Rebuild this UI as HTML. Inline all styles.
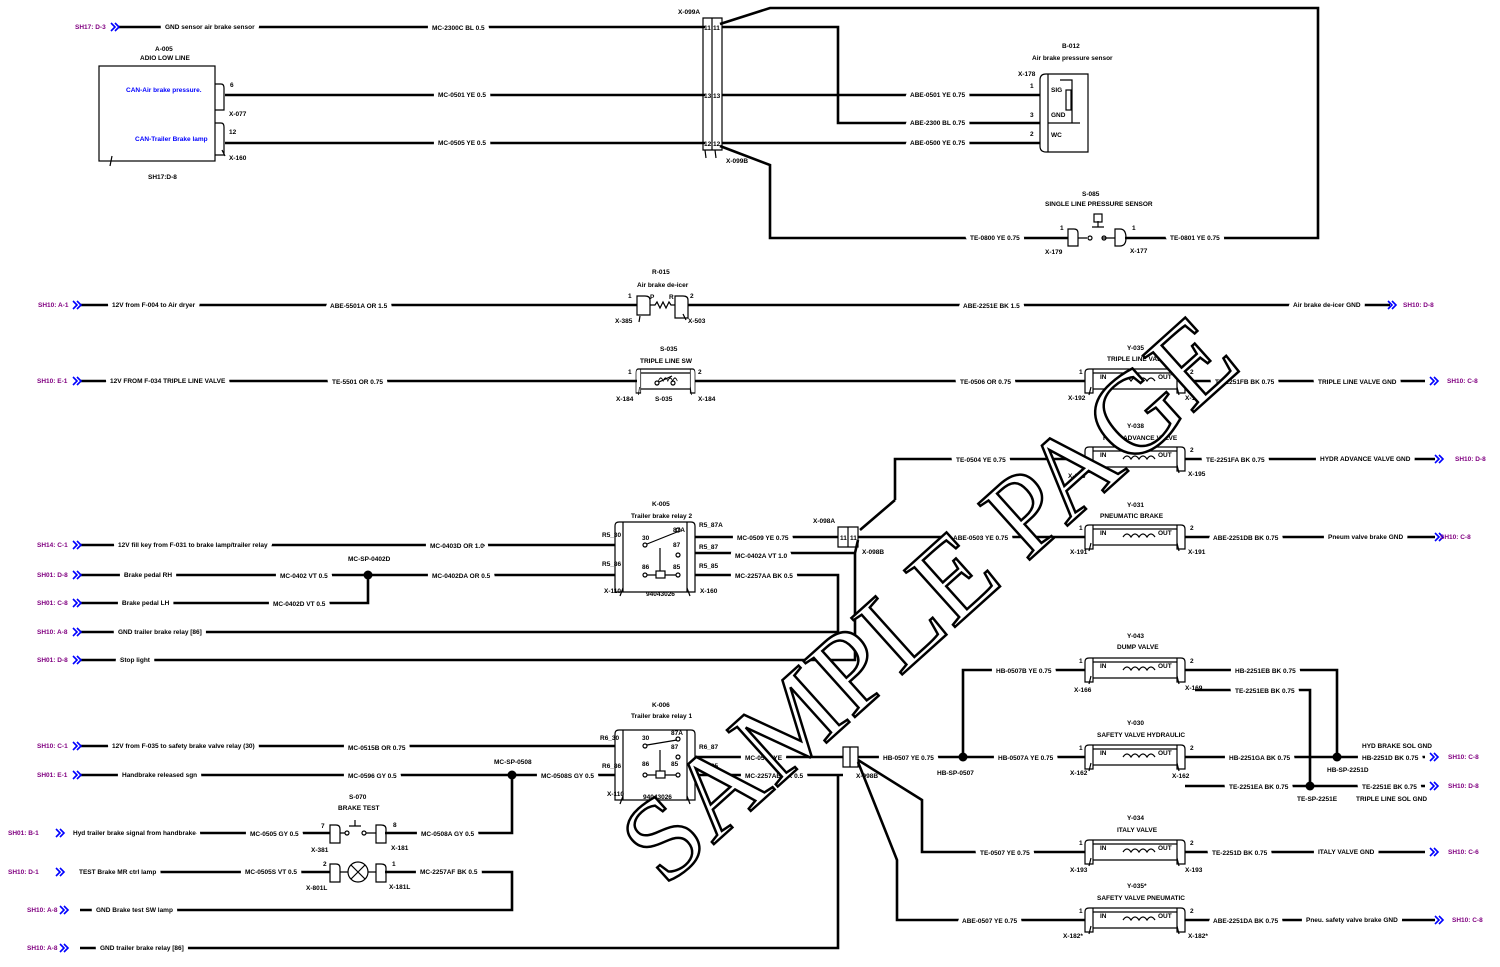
<!DOCTYPE html>
<html><head><meta charset="utf-8"><style>
html,body{margin:0;padding:0;background:#fff}
svg{display:block}
.w{stroke:#000;stroke-width:2.6;fill:none}
.th{stroke:#000;stroke-width:1.2;fill:none}
text{font-family:"Liberation Sans",sans-serif;font-size:6.5px;font-weight:bold;fill:#000}
.l{paint-order:stroke;stroke:#fff;stroke-width:9px;stroke-linejoin:round}
.p{fill:#800080;font-size:6.5px}
.b{fill:#00f}
.ar{stroke:#00f;stroke-width:1.6;fill:none}
</style></head><body>
<svg width="1500" height="967" viewBox="0 0 1500 967" xmlns="http://www.w3.org/2000/svg">
<defs>
<g id="arr"><path class="ar" d="M0,-4 L4,0 L0,4 M4,-4 L8,0 L4,4"/></g>
<g id="valve">
<path class="th" d="M4,-12 H96 Q100,-12 100,-8 V12 H92 V-12 M4,-12 Q0,-12 0,-8 V12 H8 V-12 M8,-8 H92 M8,8 H92"/>
<path class="th" d="M4,14 L6,6 M94,14 L92,6"/>
<path class="th" d="M38,0 q4,-6 8,0 q4,-6 8,0 q4,-6 8,0 q4,-6 8,0"/>
</g>
<g id="rel">
<path class="th" d="M4,0 H76 Q80,0 80,4 V70 H0 V4 Q0,0 4,0 M8,0 V70 M72,0 V70"/>
<path class="th" d="M8,66 L5,74 M72,66 L75,74"/>
</g>
</defs>
<rect width="1500" height="967" fill="#fff"/>

<!-- TOP SECTION -->
<path class="w" d="M118,27 H705 M722,27 H838 V123 H1040 M722,95 H1040 M722,143 H1040 M225,95 H705 M225,143 H705"/>
<path class="w" d="M720,24 L770,8 H1318 V238 H1125 M720,146 L770,165 V238 H1068"/>
<path class="th" d="M703,18 H712 V150 H703 Z M712,18 H722 V150 H712 Z M705,150 l1,8 M715,150 l1,8"/>
<text x="678" y="14">X-099A</text>
<text x="704" y="30" font-size="5">11</text><text x="713" y="30" font-size="5">11</text>
<text x="704" y="98" font-size="5">13</text><text x="713" y="98" font-size="5">13</text>
<text x="704" y="146" font-size="5">12</text><text x="713" y="146" font-size="5">12</text>
<text x="726" y="163">X-099B</text>
<use href="#arr" x="111" y="27"/>
<text class="p" x="75" y="29">SH17: D-3</text>
<text class="l" x="165" y="29">GND sensor air brake sensor</text>
<text class="l" x="432" y="30">MC-2300C BL 0.5</text>
<rect x="99" y="66" width="116" height="95" class="th" stroke-width="1.5"/>
<path class="th" d="M215,84 H221 Q224,84 224,88 V110 H215 M215,123 H221 Q224,123 224,127 V155 H215 M222,150 l3,6"/>
<text x="155" y="51">A-005</text><text x="140" y="60">ADIO LOW LINE</text>
<text class="b" x="126" y="92">CAN-Air brake pressure.</text>
<text class="b" x="135" y="141">CAN-Trailer Brake lamp</text>
<text x="230" y="87">6</text><text x="229" y="116">X-077</text>
<text x="229" y="134">12</text><text x="229" y="160">X-160</text>
<text x="148" y="179">SH17:D-8</text><path class="th" d="M112,156 l-2,10"/>
<text class="l" x="438" y="97">MC-0501 YE 0.5</text>
<text class="l" x="438" y="145">MC-0505 YE 0.5</text>
<text class="l" x="910" y="97">ABE-0501 YE 0.75</text>
<text class="l" x="910" y="125">ABE-2300 BL 0.75</text>
<text class="l" x="910" y="145">ABE-0500 YE 0.75</text>
<path class="th" d="M1046,74 H1088 V152 H1046 Q1040,152 1040,146 V80 Q1040,74 1046,74 M1048,74 V152 M1048,123 H1080 M1060,80 H1072 V123"/>
<rect x="1066" y="90" width="5" height="20" class="th"/>
<text x="1062" y="48">B-012</text><text x="1032" y="60">Air brake pressure sensor</text>
<text x="1018" y="76">X-178</text>
<text x="1030" y="88">1</text><text x="1030" y="117">3</text><text x="1030" y="136">2</text>
<text x="1051" y="92" font-size="5">SIG</text><text x="1051" y="117" font-size="5">GND</text><text x="1051" y="137" font-size="5">WC</text>
<path class="th" d="M1068,229 H1074 Q1078,229 1078,233 V246 H1068 Z M1078,238 H1087 M1115,229 H1120 Q1126,229 1126,238 Q1126,246 1120,246 H1115 Z M1102,238 H1115 M1092,227 H1104 M1098,227 V221"/>
<circle cx="1090" cy="238" r="2" class="th"/><circle cx="1104" cy="238" r="2" class="th"/>
<rect x="1094" y="214" width="8" height="8" class="th"/>
<text x="1082" y="196">S-085</text><text x="1045" y="206">SINGLE LINE PRESSURE SENSOR</text>
<text x="1060" y="230">1</text><text x="1132" y="230">1</text>
<text x="1045" y="254">X-179</text><text x="1130" y="253">X-177</text>
<text class="l" x="970" y="240">TE-0800 YE 0.75</text>
<text class="l" x="1170" y="240">TE-0801 YE 0.75</text>

<!-- ROW 305 -->
<path class="w" d="M80,305 H637 M688,305 H1390"/>
<use href="#arr" x="73" y="305"/><use href="#arr" x="1388" y="305"/>
<text class="p" x="38" y="307">SH10: A-1</text>
<text class="l" x="112" y="307">12V from F-004 to Air dryer</text>
<text class="l" x="330" y="308">ABE-5501A OR 1.5</text>
<text class="l" x="963" y="308">ABE-2251E BK 1.5</text>
<text class="l" x="1293" y="307">Air brake de-icer GND</text>
<text class="p" x="1403" y="307">SH10: D-8</text>
<path class="th" d="M637,296 H645 Q650,296 650,300 V315 H637 Z M650,305 H655 l2,-3 l3,6 l3,-6 l3,6 l3,-6 l2,3 H675 M675,296 H683 Q688,296 688,300 V318 H675 Z M640,316 l-1,6 M683,314 l3,6"/>
<text x="652" y="274">R-015</text><text x="637" y="287">Air brake de-icer</text>
<text x="628" y="298">1</text><text x="690" y="298">2</text><text x="650" y="299">P</text><text x="669" y="299">R</text>
<text x="615" y="323">X-385</text><text x="688" y="323">X-503</text>

<!-- ROW 381 -->
<path class="w" d="M80,381 H637 M695,381 H1085 M1185,381 H1425"/>
<use href="#arr" x="73" y="381"/><use href="#arr" x="1430" y="381"/>
<text class="p" x="37" y="383">SH10: E-1</text>
<text class="l" x="110" y="383">12V FROM F-034 TRIPLE LINE VALVE</text>
<text class="l" x="332" y="384">TE-5501 OR 0.75</text>
<text class="l" x="960" y="384">TE-0506 OR 0.75</text>
<text class="l" x="1215" y="384">TE-2251FB BK 0.75</text>
<text class="l" x="1318" y="384">TRIPLE LINE VALVE GND</text>
<text class="p" x="1447" y="383">SH10: C-8</text>
<use href="#valve" x="636" y="381" transform="translate(636,381) scale(0.59,1) translate(-636,-381)"/>
<circle cx="657" cy="383" r="2" class="th"/><circle cx="673" cy="383" r="2" class="th"/><path class="th" d="M659,382 L672,376"/>
<text x="660" y="351">S-035</text><text x="640" y="363">TRIPLE LINE SW</text>
<text x="628" y="374">1</text><text x="698" y="374">2</text>
<text x="616" y="401">X-184</text><text x="655" y="401">S-035</text><text x="698" y="401">X-184</text>
<use href="#valve" x="1085" y="381"/>
<text x="1100" y="379">IN</text><text x="1158" y="379">OUT</text>
<text x="1127" y="350">Y-035</text><text x="1107" y="361">TRIPLE LINE VALVE</text>
<text x="1079" y="374">1</text><text x="1190" y="374">2</text>
<text x="1068" y="400">X-192</text><text x="1185" y="400">X-192</text>

<!-- ROW 459 -->
<path class="w" d="M895,500 V459 H1085 M1185,459 H1435 M895,500 L860,530"/>
<use href="#arr" x="1435" y="459"/>
<use href="#valve" x="1085" y="459"/>
<text x="1100" y="457">IN</text><text x="1158" y="457">OUT</text>
<text x="1127" y="428">Y-038</text><text x="1103" y="440">HYDR ADVANCE VALVE</text>
<text x="1190" y="452">2</text><text x="1068" y="478">X-195</text><text x="1188" y="476">X-195</text>
<text class="l" x="956" y="462">TE-0504 YE 0.75</text>
<text class="l" x="1206" y="462">TE-2251FA BK 0.75</text>
<text class="l" x="1320" y="461">HYDR ADVANCE VALVE GND</text>
<text class="p" x="1455" y="461">SH10: D-8</text>

<!-- ROW 537 -->
<path class="w" d="M695,537 H838 M858,537 H1085 M1185,537 H1435"/>
<use href="#arr" x="1435" y="537"/>
<use href="#valve" x="1085" y="537"/>
<text x="1100" y="535">IN</text><text x="1158" y="535">OUT</text>
<text x="1127" y="507">Y-031</text><text x="1100" y="518">PNEUMATIC BRAKE</text>
<text x="1079" y="530">1</text><text x="1190" y="530">2</text>
<text x="1070" y="554">X-191</text><text x="1188" y="554">X-191</text>
<text class="l" x="953" y="540">ABE-0503 YE 0.75</text>
<text class="l" x="1213" y="540">ABE-2251DB BK 0.75</text>
<text class="l" x="1328" y="539">Pneum valve brake GND</text>
<text class="p" x="1440" y="539">SH10: C-8</text>
<path class="th" d="M838,527 H848 V547 H838 Z M848,527 H858 V547 H848 Z"/>
<text x="813" y="523">X-098A</text><text x="862" y="554">X-098B</text>
<text x="840" y="540" font-size="5">11</text><text x="850" y="540" font-size="5">11</text>

<!-- K-005 relay and left rows -->
<path class="w" d="M80,545 H615 M80,575 H615 M80,603 H368 V575 M80,632 H838 V575 H695 M80,660 H855 V553 H695 M855,553 L858,540"/>
<circle cx="368" cy="575" r="4.5" fill="#000"/>
<use href="#arr" x="73" y="545"/><use href="#arr" x="73" y="575"/><use href="#arr" x="73" y="603"/><use href="#arr" x="73" y="632"/><use href="#arr" x="73" y="660"/>
<text class="p" x="37" y="547">SH14: C-1</text><text class="p" x="37" y="577">SH01: D-8</text><text class="p" x="37" y="605">SH01: C-8</text><text class="p" x="37" y="634">SH10: A-8</text><text class="p" x="37" y="662">SH01: D-8</text>
<text class="l" x="118" y="547">12V fill key from F-031 to brake lamp/trailer relay</text>
<text class="l" x="430" y="548">MC-0403D OR 1.0</text>
<text class="l" x="124" y="577">Brake pedal RH</text>
<text class="l" x="280" y="578">MC-0402 VT 0.5</text>
<text x="348" y="561">MC-SP-0402D</text>
<text class="l" x="432" y="578">MC-0402DA OR 0.5</text>
<text class="l" x="122" y="605">Brake pedal LH</text>
<text class="l" x="273" y="606">MC-0402D VT 0.5</text>
<text class="l" x="118" y="634">GND trailer brake relay [86]</text>
<text class="l" x="120" y="662">Stop light</text>
<text class="l" x="737" y="540">MC-0509 YE 0.75</text>
<text class="l" x="735" y="558">MC-0402A VT 1.0</text>
<text class="l" x="735" y="578">MC-2257AA BK 0.5</text>
<use href="#rel" x="615" y="522"/>
<g class="th"><circle cx="645" cy="545" r="2"/><circle cx="678" cy="530" r="2"/><circle cx="678" cy="555" r="2"/><circle cx="645" cy="575" r="2"/><circle cx="678" cy="575" r="2"/><rect x="656" y="571" width="9" height="7"/>
<path d="M647,544 L677,532 M660,571 V548 M647,575 H656 M665,575 H676"/></g>
<text x="652" y="506">K-005</text><text x="631" y="518">Trailer brake relay 2</text>
<text x="602" y="537">R5_30</text><text x="602" y="566">R5_86</text><text x="699" y="527">R5_87A</text><text x="699" y="549">R5_87</text><text x="699" y="568">R5_85</text>
<text x="642" y="540">30</text><text x="673" y="532">87A</text><text x="673" y="547">87</text><text x="642" y="569">86</text><text x="673" y="569">85</text>
<text x="604" y="593">X-110</text><text x="646" y="596">94043026</text><text x="700" y="593">X-160</text>

<!-- Lower relay K-006 -->
<path class="w" d="M80,746 H615 M80,775 H615 M695,757 H843 M695,775 H843"/>
<circle cx="512" cy="775" r="4.5" fill="#000"/>
<path class="w" d="M80,833 H330 M385,833 H512 V775 M80,872 H330 M385,872 H512 V910 H80 M80,948 H838 V775"/>
<use href="#arr" x="73" y="746"/><use href="#arr" x="73" y="775"/><use href="#arr" x="56" y="833"/><use href="#arr" x="56" y="872"/><use href="#arr" x="60" y="910"/><use href="#arr" x="60" y="948"/>
<text class="p" x="37" y="748">SH10: C-1</text><text class="p" x="37" y="777">SH01: E-1</text><text class="p" x="8" y="835">SH01: B-1</text><text class="p" x="8" y="874">SH10: D-1</text><text class="p" x="27" y="912">SH10: A-8</text><text class="p" x="27" y="950">SH10: A-8</text>
<text class="l" x="112" y="748">12V from F-035 to safety brake valve relay (30)</text>
<text class="l" x="348" y="750">MC-0515B OR 0.75</text>
<text class="l" x="122" y="777">Handbrake released sgn</text>
<text class="l" x="348" y="778">MC-0596 GY 0.5</text>
<text x="494" y="764">MC-SP-0508</text>
<text class="l" x="541" y="778">MC-0508S GY 0.5</text>
<text class="l" x="73" y="835">Hyd trailer brake signal from handbrake</text>
<text class="l" x="250" y="836">MC-0505 GY 0.5</text>
<text class="l" x="421" y="836">MC-0508A GY 0.5</text>
<text class="l" x="79" y="874">TEST Brake MR ctrl lamp</text>
<text class="l" x="245" y="874">MC-0505S VT 0.5</text>
<text class="l" x="420" y="874">MC-2257AF BK 0.5</text>
<text class="l" x="96" y="912">GND Brake test SW lamp</text>
<text class="l" x="100" y="950">GND trailer brake relay [86]</text>
<path class="th" d="M330,825 H336 Q340,825 340,829 V843 H330 Z M340,833 H345 M366,833 H376 M376,825 H381 Q386,825 386,829 V843 H376 Z M349,826 H361 M355,826 V820 M330,864 H336 Q340,864 340,868 V882 H330 Z M340,872 H348 M368,872 H376 M376,864 H381 Q386,864 386,868 V882 H376 Z"/>
<circle cx="347" cy="833" r="2" class="th"/><circle cx="364" cy="833" r="2" class="th"/>
<circle cx="358" cy="872" r="10" class="th" stroke-width="1.5"/><path class="th" d="M351,865 L365,879 M365,865 L351,879"/>
<text x="349" y="799">S-070</text><text x="338" y="810">BRAKE TEST</text>
<text x="321" y="828">7</text><text x="393" y="827">8</text><text x="311" y="852">X-381</text><text x="391" y="850">X-181</text>
<text x="323" y="866">2</text><text x="392" y="866">1</text><text x="306" y="890">X-801L</text><text x="389" y="889">X-181L</text>
<use href="#rel" x="615" y="730"/>
<g class="th"><circle cx="645" cy="746" r="2"/><circle cx="678" cy="739" r="2"/><circle cx="678" cy="757" r="2"/><circle cx="645" cy="775" r="2"/><circle cx="678" cy="775" r="2"/><rect x="656" y="771" width="9" height="7"/>
<path d="M647,745 L677,740 M660,771 V750 M647,775 H656 M665,775 H676"/></g>
<text x="652" y="707">K-006</text><text x="631" y="718">Trailer brake relay 1</text>
<text x="600" y="740">R6_30</text><text x="602" y="768">R6_86</text><text x="699" y="749">R6_87</text><text x="699" y="768">R6_85</text>
<text x="642" y="740">30</text><text x="671" y="735">87A</text><text x="671" y="749">87</text><text x="642" y="766">86</text><text x="671" y="766">85</text>
<text x="607" y="796">X-110</text><text x="643" y="799">94043026</text>
<text class="l" x="745" y="760">MC-0507 YE</text>
<text class="l" x="745" y="778">MC-2257AB BK 0.5</text>
<path class="th" d="M843,747 H850 V767 H843 Z M850,747 H858 V767 H850 Z"/>
<text x="856" y="778">X-098B</text>

<!-- Right lower -->
<path class="w" d="M858,757 H1085 M963,757 V670 H1085 M1185,670 H1337 V757 M1195,690 H1310 V786 M1185,757 H1425 M1185,786 H1425"/>
<path class="w" d="M858,760 L922,800 V852 H1085 M1185,852 H1425 M858,762 L897,860 V920 H1085 M1185,920 H1435"/>
<circle cx="963" cy="757" r="4.5" fill="#000"/><circle cx="1337" cy="757" r="4.5" fill="#000"/><circle cx="1310" cy="786" r="4.5" fill="#000"/>
<use href="#arr" x="1430" y="757"/><use href="#arr" x="1430" y="786"/><use href="#arr" x="1430" y="852"/><use href="#arr" x="1435" y="920"/>
<text class="l" x="883" y="760">HB-0507 YE 0.75</text>
<text x="937" y="775">HB-SP-0507</text>
<text class="l" x="998" y="760">HB-0507A YE 0.75</text>
<text class="l" x="996" y="673">HB-0507B YE 0.75</text>
<text class="l" x="1235" y="673">HB-2251EB BK 0.75</text>
<text class="l" x="1235" y="693">TE-2251EB BK 0.75</text>
<text class="l" x="1229" y="760">HB-2251GA BK 0.75</text>
<text class="l" x="1229" y="789">TE-2251EA BK 0.75</text>
<text x="1362" y="748">HYD BRAKE SOL GND</text>
<text class="l" x="1362" y="760">HB-2251D BK 0.75</text>
<text class="l" x="1362" y="789">TE-2251E BK 0.75</text>
<text x="1327" y="772">HB-SP-2251D</text><text x="1297" y="801">TE-SP-2251E</text>
<text x="1356" y="801">TRIPLE LINE SOL GND</text>
<text class="p" x="1448" y="759">SH10: C-8</text><text class="p" x="1448" y="788">SH10: D-8</text>
<use href="#valve" x="1085" y="670"/><text x="1100" y="668">IN</text><text x="1158" y="668">OUT</text>
<text x="1127" y="638">Y-043</text><text x="1117" y="649">DUMP VALVE</text><text x="1079" y="663">1</text><text x="1190" y="663">2</text><text x="1074" y="692">X-166</text><text x="1185" y="690">X-169</text>
<use href="#valve" x="1085" y="757"/><text x="1100" y="755">IN</text><text x="1158" y="755">OUT</text>
<text x="1127" y="725">Y-030</text><text x="1097" y="737">SAFETY VALVE HYDRAULIC</text><text x="1079" y="750">1</text><text x="1190" y="750">2</text><text x="1070" y="775">X-162</text><text x="1172" y="778">X-162</text>
<use href="#valve" x="1085" y="852"/><text x="1100" y="850">IN</text><text x="1158" y="850">OUT</text>
<text x="1127" y="820">Y-034</text><text x="1117" y="832">ITALY VALVE</text><text x="1079" y="845">1</text><text x="1190" y="845">2</text><text x="1070" y="872">X-193</text><text x="1185" y="872">X-193</text>
<text class="l" x="980" y="855">TE-0507 YE 0.75</text>
<text class="l" x="1212" y="855">TE-2251D BK 0.75</text>
<text class="l" x="1318" y="854">ITALY VALVE GND</text>
<text class="p" x="1448" y="854">SH10: C-6</text>
<use href="#valve" x="1085" y="920"/><text x="1100" y="918">IN</text><text x="1158" y="918">OUT</text>
<text x="1127" y="888">Y-035*</text><text x="1097" y="900">SAFETY VALVE PNEUMATIC</text><text x="1079" y="913">1</text><text x="1190" y="913">2</text><text x="1063" y="938">X-182*</text><text x="1188" y="938">X-182*</text>
<text class="l" x="962" y="923">ABE-0507 YE 0.75</text>
<text class="l" x="1213" y="923">ABE-2251DA BK 0.75</text>
<text class="l" x="1306" y="922">Pneu. safety valve brake GND</text>
<text class="p" x="1452" y="922">SH10: C-8</text>

<!-- watermark -->
<text x="0" y="0" transform="translate(665,888) rotate(-42)" style="font-family:'Liberation Serif',serif;font-size:116px;font-weight:normal;fill:#fff;stroke:#000;stroke-width:2.5">SAMPLE PAGE</text>
</svg>
</body></html>
